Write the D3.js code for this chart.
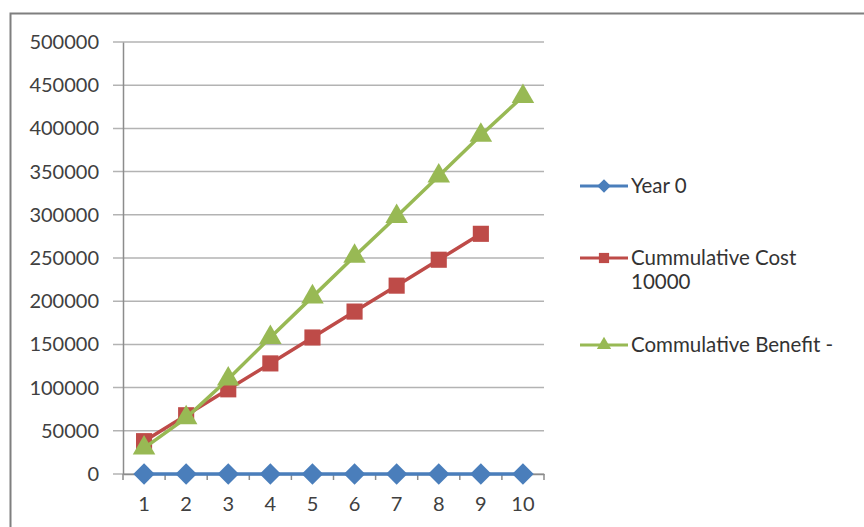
<!DOCTYPE html>
<html><head><meta charset="utf-8">
<script src="https://cdn.jsdelivr.net/npm/d3@7"></script>
<style>body{margin:0;background:#fff}svg{display:block}text{font-family:Lato,"Open Sans",sans-serif}</style>
</head><body>
<svg id="c" width="864" height="527"></svg>
<script>
const categories = [1,2,3,4,5,6,7,8,9,10];
const year0 = [0,0,0,0,0,0,0,0,0,0];
const cumCost = [38000,68000,98000,128000,158000,188000,218000,248000,278000,null];
const cumBenefit = [30000,65000,110000,158000,205000,252000,298000,345000,392000,437000];
const yTicks = [0,50000,100000,150000,200000,250000,300000,350000,400000,450000,500000];
const seriesNames = ["Year 0","Cummulative Cost\n10000","Commulative Benefit -"];
const seriesColors = ["#4a7ebb","#be4b48","#98b954"];

const sqDiamond = { draw(ctx, size){ const r = Math.sqrt(size/2); ctx.moveTo(0,-r); ctx.lineTo(r,0); ctx.lineTo(0,r); ctx.lineTo(-r,0); ctx.closePath(); } };
const seriesSymbols = [sqDiamond, d3.symbolSquare, d3.symbolTriangle];

const svg = d3.select("#c");
svg.append("rect").attr("x",10.5).attr("y",13.5).attr("width",900).attr("height",600)
  .attr("fill","#fff").attr("stroke","#7f7f7f").attr("stroke-width",2);

const x = d3.scaleBand().domain(categories).range([123,544]);
const y = d3.scaleLinear().domain([0,500000]).range([474,42]);

const g = svg.append("g");
g.selectAll("line.grid").data(yTicks).join("line")
  .attr("x1",113).attr("x2",544).attr("y1",d=>y(d)).attr("y2",d=>y(d))
  .attr("stroke","#b3b3b3").attr("stroke-width",1.5);
const yAxis = d3.axisLeft(y).tickValues(yTicks).tickSize(0).tickPadding(24).tickFormat(d3.format("d"));
const ya = svg.append("g").attr("transform","translate(123,0)").call(yAxis);
ya.select(".domain").attr("stroke","#8c8c8c").attr("stroke-width",1.5);
ya.selectAll("text").attr("font-size",20).attr("fill","#404040");
const xAxis = d3.axisBottom(x).tickSize(0).tickPadding(23);
const xa = svg.append("g").attr("transform","translate(0,474)").call(xAxis);
xa.select(".domain").attr("stroke","#8c8c8c").attr("stroke-width",1.5);
xa.selectAll("text").attr("font-size",20).attr("fill","#404040");
const bounds = categories.map(c=>x(c)).concat([x.range()[1]]);
svg.selectAll("line.xt").data(bounds).join("line")
  .attr("x1",d=>d).attr("x2",d=>d).attr("y1",474).attr("y2",480)
  .attr("stroke","#8c8c8c").attr("stroke-width",1.5);

const cx = c => x(c) + x.bandwidth()/2;
const allSeries = [year0, cumCost, cumBenefit];
const sizes = [230,260,220];
allSeries.forEach((vals,i)=>{
  const pts = categories.map((c,j)=>({c, v: vals[j]}));
  const line = d3.line().defined(d=>d.v!=null).x(d=>cx(d.c)).y(d=>y(d.v));
  svg.append("path").datum(pts).attr("d",line).attr("fill","none")
    .attr("stroke",seriesColors[i]).attr("stroke-width",3.5);
  svg.selectAll(null).data(pts.filter(d=>d.v!=null)).join("path")
    .attr("transform",d=>`translate(${cx(d.c)},${y(d.v)})`)
    .attr("d",d3.symbol().type(seriesSymbols[i]).size(sizes[i]))
    .attr("fill",seriesColors[i]);
});

const legY = [186,258,345];
seriesNames.forEach((name,i)=>{
  const lg = svg.append("g").attr("transform",`translate(0,${legY[i]})`);
  lg.append("line").attr("x1",580).attr("x2",628).attr("y1",0).attr("y2",0)
    .attr("stroke",seriesColors[i]).attr("stroke-width",3);
  lg.append("path").attr("transform","translate(604,0)")
    .attr("d",d3.symbol().type(seriesSymbols[i]).size(sizes[i]*0.4)).attr("fill",seriesColors[i]);
  const t = lg.append("text").attr("x",631).attr("y",7).attr("font-size",20.5).attr("fill","#333");
  name.split("\n").forEach((s,k)=>{
    t.append("tspan").attr("x",631).attr("dy",k===0?0:24).text(s);
  });
});
</script>
</body></html>
